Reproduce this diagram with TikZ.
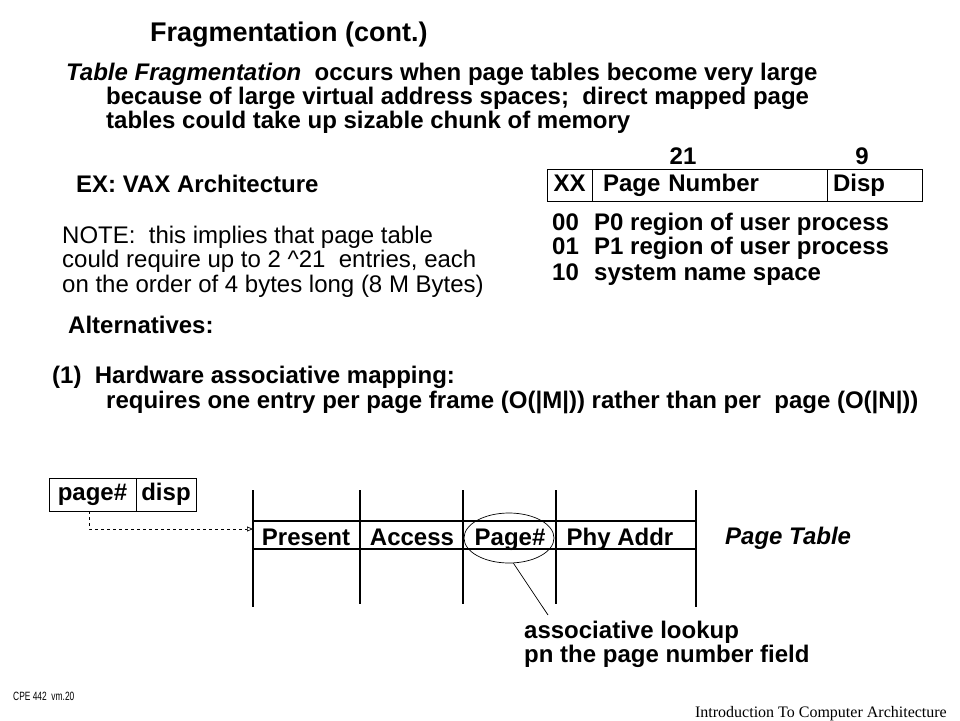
\documentclass[tikz,border=0pt]{standalone}
\usepackage{fontspec}
\setmainfont{Liberation Sans}
\newfontfamily\serifft{Liberation Serif}
\newfontfamily\narrowft[FakeStretch=0.7]{Liberation Sans}
\usetikzlibrary{positioning,arrows.meta,shapes.geometric}

\begin{document}
\begin{tikzpicture}[x=1pt, y=-1pt,
  txt/.style={anchor=base west, inner sep=0pt, font=\fontsize{24}{24}\selectfont\bfseries},
  note/.style={anchor=base west, inner sep=0pt, font=\fontsize{24}{24}\selectfont},
  cell/.style={draw, line width=1pt, inner sep=0pt, outer sep=0pt, text height=17pt, text depth=5pt, font=\fontsize{24}{24}\selectfont\bfseries},
  col/.style={anchor=base, inner sep=0pt, font=\fontsize{24}{24}\selectfont\bfseries},
  rule/.style={line width=1.2pt}
]
\useasboundingbox (0,0) rectangle (960,720);
\fill[white] (0,0) rectangle (960,720);

% title and intro
\node[anchor=base west, inner sep=0pt, font=\fontsize{27}{27}\selectfont\bfseries] (title) at (150,41) {Fragmentation (cont.)};
\node[txt] (intro1) at (66,80) {\textit{Table Fragmentation}\ \ occurs when page tables become very large};
\node[txt] (intro2) at (106,104) {because of large virtual address spaces;\ \ direct mapped page};
\node[txt] (intro3) at (106,128) {tables could take up sizable chunk of memory};

% VAX example
\node[txt] (vax) at (76,192) {EX: VAX Architecture};
\node[note] (note1) at (62,243) {NOTE:\ \ this implies that page table};
\node[note] (note2) at (62,267) {could require up to 2 \textasciicircum 21\ \ entries, each};
\node[note] (note3) at (62,292) {on the order of 4 bytes long (8 M Bytes)};

% address format
\node[cell, minimum width=45pt, minimum height=32pt, anchor=north west] (xx) at (547,169) {XX};
\node[cell, minimum width=235pt, minimum height=32pt, right=0pt of xx, inner xsep=11pt, text width=213pt, align=left] (pn) {Page Number};
\node[cell, minimum width=95pt, minimum height=32pt, right=0pt of pn, inner xsep=6pt, text width=83pt, align=left] (dsp) {Disp};
\node[col] (bits21) at (683,164) {21};
\node[col] (bits9) at (862,164) {9};

\node[txt] (code0) at (552,230) {00};
\node[txt] (desc0) at (594,230) {P0 region of user process};
\node[txt] (code1) at (552,254) {01};
\node[txt] (desc1) at (594,254) {P1 region of user process};
\node[txt] (code2) at (552,280) {10};
\node[txt] (desc2) at (594,280) {system name space};

% alternatives
\node[txt] (alt) at (68,333) {Alternatives:};
\node[txt] (hw1) at (52,383) {(1)\ \ Hardware associative mapping:};
\node[txt] (hw2) at (106,408) {requires one entry per page frame (O(|M|)) rather than per\ \ page (O(|N|))};

% virtual address
\node[cell, minimum width=87pt, minimum height=33pt, anchor=north west] (pg) at (49,478) {page\#};
\node[cell, minimum width=60pt, minimum height=33pt, right=0pt of pg] (off) {disp};

% page table
\draw[rule] (253,490) -- (253,607);
\draw[rule] (360,490) -- (360,604);
\draw[rule] (463,490) -- (463,604);
\draw[rule] (556,490) -- (556,604);
\draw[rule] (696,490) -- (696,607);
\draw[rule] (253,521) -- (696,521);
\draw[rule] (253,549) -- (696,549);
\node[col] (present) at (306,545) {Present};
\node[col] (access) at (412,545) {Access};
\node[col] (pagecol) at (510,545) {Page\#};
\node[col] (phy) at (620,545) {Phy Addr};
\node[txt, font=\fontsize{24}{24}\selectfont\bfseries\itshape] (ptab) at (725,544) {Page Table};

\coordinate (tblin) at (253,529);
\draw[dashed, line width=0.7pt, -{Triangle[open, length=6pt, width=5pt]}] ([xshift=-3.5pt]pg.south) |- (tblin);

\node[ellipse, draw, line width=0.7pt, minimum width=90pt, minimum height=50pt] (lookup) at (509,538) {};
\coordinate (lookend) at (548,615);
\draw[line width=0.7pt] (lookup.-80) -- (lookend);
\node[txt] (assoc1) at (524,638) {associative lookup};
\node[txt] (assoc2) at (524,662) {pn the page number field};

% footer
\node[anchor=base west, inner sep=0pt, font=\narrowft\fontsize{12}{12}\selectfont] (ftl) at (13,700) {CPE 442\ \ vm.20};
\node[anchor=base east, inner sep=0pt, font=\serifft\fontsize{16}{16}\selectfont] (ftr) at (947,717) {Introduction To Computer Architecture};
\end{tikzpicture}
\end{document}
